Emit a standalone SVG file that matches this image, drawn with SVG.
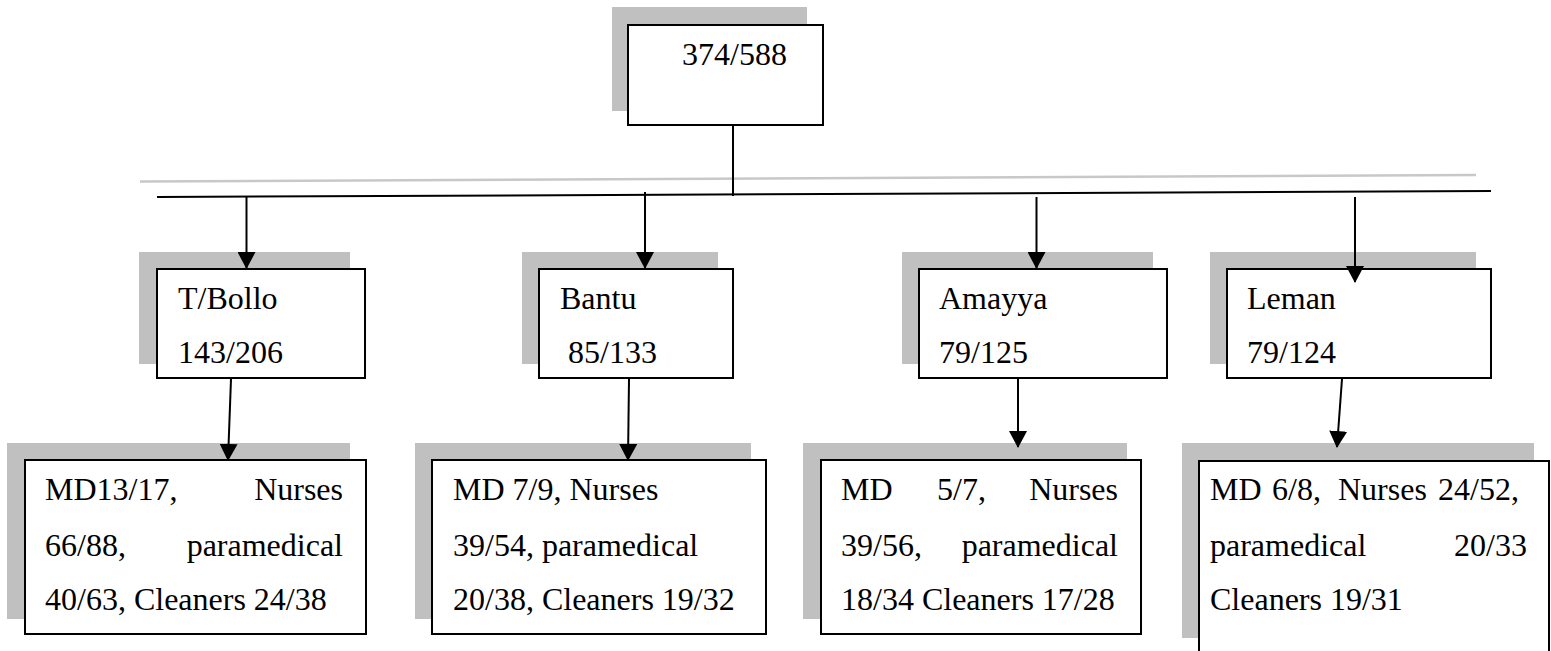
<svg xmlns="http://www.w3.org/2000/svg" width="1551" height="651" viewBox="0 0 1551 651">
<style>
.sh{fill:#c0c0c0;stroke:none}
.bx{fill:#fff;stroke:#000;stroke-width:2}
.t{font-family:"Liberation Serif","Times New Roman",serif;font-size:32px;fill:#000}
.e{text-anchor:end}
.ln{stroke:#000;stroke-width:2;fill:none}
.ar{stroke:#000;stroke-width:2;fill:none;marker-end:url(#ah)}
</style>
<defs>
<marker id="ah" markerUnits="userSpaceOnUse" markerWidth="17" markerHeight="18" refX="16" refY="9" orient="auto">
<path d="M0,0 L17,9 L0,18 z" fill="#000"/>
</marker>
</defs>
<rect width="1551" height="651" fill="#fff"/>
<g id="top">
<rect class="sh" x="612" y="7" width="195" height="104"/>
<rect class="bx" x="628" y="25" width="195" height="100"/>
<text class="t" x="682" y="65">374/588</text>
</g>
<g id="tbollo">
<rect class="sh" x="139" y="252" width="211" height="112"/>
<rect class="bx" x="157" y="269" width="208" height="109"/>
<text class="t" x="178" y="309">T/Bollo</text>
<text class="t" x="178" y="363">143/206</text>
</g>
<g id="bantu">
<rect class="sh" x="522" y="252" width="196" height="112"/>
<rect class="bx" x="539" y="269" width="194" height="109"/>
<text class="t" x="560" y="309">Bantu</text>
<text class="t" x="568" y="363">85/133</text>
</g>
<g id="amayya">
<rect class="sh" x="902" y="252" width="251" height="112"/>
<rect class="bx" x="919" y="269" width="248" height="109"/>
<text class="t" x="939" y="309">Amayya</text>
<text class="t" x="939" y="363">79/125</text>
</g>
<g id="leman">
<rect class="sh" x="1210" y="252" width="266" height="112"/>
<rect class="bx" x="1227" y="269" width="264" height="109"/>
<text class="t" x="1247" y="309">Leman</text>
<text class="t" x="1247" y="363">79/124</text>
</g>
<g id="tbollo-staff">
<rect class="sh" x="7" y="443" width="343" height="176"/>
<rect class="bx" x="25" y="460" width="341" height="174"/>
<text class="t" x="45" y="500">MD13/17,</text>
<text class="t e" x="343" y="500">Nurses</text>
<text class="t" x="45" y="556">66/88,</text>
<text class="t e" x="343" y="556">paramedical</text>
<text class="t" x="45" y="610">40/63, Cleaners 24/38</text>
</g>
<g id="bantu-staff">
<rect class="sh" x="415" y="443" width="336" height="176"/>
<rect class="bx" x="432" y="460" width="334" height="174"/>
<text class="t" x="453" y="500">MD 7/9, Nurses</text>
<text class="t" x="453" y="556">39/54, paramedical</text>
<text class="t" x="453" y="610">20/38, Cleaners 19/32</text>
</g>
<g id="amayya-staff">
<rect class="sh" x="803" y="443" width="324" height="176"/>
<rect class="bx" x="821" y="460" width="320" height="174"/>
<text class="t" x="841" y="500">MD</text>
<text class="t" x="937" y="500">5/7,</text>
<text class="t e" x="1118" y="500">Nurses</text>
<text class="t" x="841" y="556">39/56,</text>
<text class="t e" x="1118" y="556">paramedical</text>
<text class="t" x="841" y="610">18/34 Cleaners 17/28</text>
</g>
<g id="leman-staff">
<rect class="sh" x="1182" y="443" width="352" height="195"/>
<rect class="bx" x="1199" y="461" width="350" height="200"/>
<text class="t" x="1210" y="500">MD</text>
<text class="t" x="1272" y="500">6/8,</text>
<text class="t" x="1338" y="500">Nurses</text>
<text class="t" x="1438" y="500">24/52,</text>
<text class="t" x="1210" y="556">paramedical</text>
<text class="t e" x="1527" y="556">20/33</text>
<text class="t" x="1210" y="610">Cleaners 19/31</text>
</g>
<g id="connectors">
<line x1="140" y1="181.5" x2="1476" y2="175" stroke="#c8c8c8" stroke-width="2.5"/>
<line class="ln" x1="157" y1="197" x2="1491" y2="191"/>
<line class="ln" x1="733" y1="126" x2="733" y2="196"/>
<line class="ar" x1="246.5" y1="197" x2="246.5" y2="268"/>
<line class="ar" x1="645" y1="192" x2="645" y2="268"/>
<line class="ar" x1="1036.5" y1="197" x2="1036.5" y2="268"/>
<line class="ar" x1="1355" y1="197" x2="1355" y2="282"/>
<line class="ar" x1="231" y1="379" x2="228" y2="460"/>
<line class="ar" x1="629" y1="379" x2="628" y2="460"/>
<line class="ar" x1="1018" y1="379" x2="1018" y2="447"/>
<line class="ar" x1="1342" y1="379" x2="1337" y2="447"/>
</g>
</svg>
